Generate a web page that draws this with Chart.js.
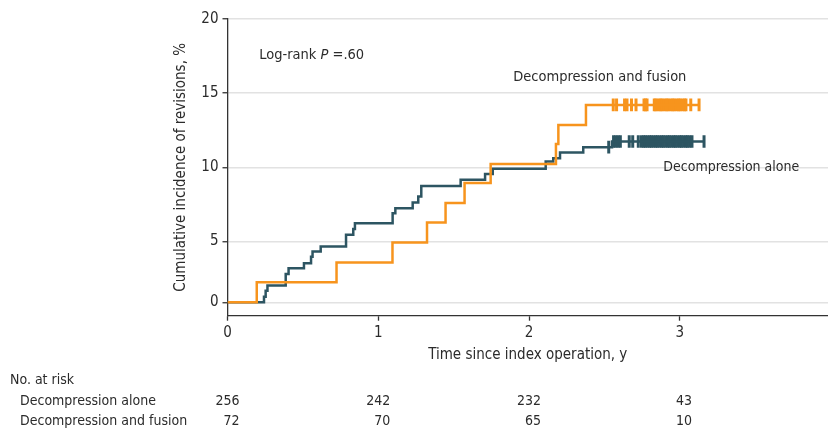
<!DOCTYPE html>
<html>
<head>
<meta charset="utf-8">
<script src="https://cdn.jsdelivr.net/npm/chart.js@4.4.1/dist/chart.umd.min.js"></script>
<style>
  html, body { margin: 0; padding: 0; background: #fff; }
  canvas { display: block; }
</style>
</head>
<body>
<canvas id="km" width="828" height="432"></canvas>
<script>
// step curves: time (y) and cumulative incidence (%) at each step
const aloneTimes = [0, 0.242, 0.253, 0.265, 0.386, 0.405, 0.507, 0.554, 0.564, 0.618, 0.786, 0.834, 0.845,
  1.095, 1.113, 1.228, 1.265, 1.285, 1.546, 1.708, 1.759, 2.110, 2.160, 2.205, 2.359, 2.550, 3.160];
const aloneIncidence = [0, 0.46, 0.96, 1.39, 2.33, 2.81, 3.22, 3.74, 4.18, 4.59, 5.45, 5.84, 6.23,
  6.91, 7.25, 7.63, 8.03, 8.75, 9.16, 9.56, 9.90, 10.39, 10.62, 11.00, 11.36, 11.74, 11.74];

const fusionTimes = [0, 0.194, 0.723, 1.094, 1.323, 1.446, 1.572, 1.745, 2.178, 2.194, 2.377, 3.127];
const fusionIncidence = [0, 1.65, 3.27, 4.92, 6.28, 7.59, 8.94, 10.22, 11.58, 12.86, 14.21, 14.21];

// censored observations (time, y)
const aloneCensored = [2.528, 2.56, 2.575, 2.59, 2.605, 2.664, 2.687, 2.724, 2.745, 2.76, 2.77, 2.785, 2.80,
  2.81, 2.825, 2.84, 2.85, 2.865, 2.88, 2.89, 2.905, 2.92, 2.93, 2.945, 2.96, 2.97, 2.985, 3.0, 3.01,
  3.025, 3.04, 3.05, 3.065, 3.08, 3.16];
const fusionCensored = [2.558, 2.580, 2.633, 2.649, 2.679, 2.709, 2.762, 2.772, 2.782, 2.83, 2.84, 2.855,
  2.87, 2.88, 2.895, 2.91, 2.92, 2.935, 2.95, 2.96, 2.975, 2.99, 3.0, 3.015, 3.03, 3.04, 3.072, 3.127];

// number at risk table
const riskYears = [0, 1, 2, 3];
const riskAlone = [256, 242, 232, 43];
const riskFusion = [72, 70, 65, 10];

const xTicks = [0, 1, 2, 3];
const yTicks = [0, 5, 10, 15, 20];

const BLUE = '#2d5562';
const ORANGE = '#f7941d';
const TEXT = '#2b2b2b';
const FONT = '"DejaVu Sans Condensed", "Liberation Sans Narrow", sans-serif';
const FS = 15;

// the 0 line sits a little above the x axis, the axis is linear from 5 up
const LIFT = 0.9;
const KNEE = 5;
function lift(v) { return v < KNEE ? LIFT + v * (KNEE - LIFT) / KNEE : v; }
function drop(u) { return u < KNEE ? (u - LIFT) * KNEE / (KNEE - LIFT) : u; }

class LiftedScale extends Chart.LinearScale {
  getPixelForValue(value) {
    if (value === null || value === undefined) return NaN;
    return super.getPixelForValue(lift(value));
  }
  getValueForPixel(pixel) {
    return drop(super.getValueForPixel(pixel));
  }
}
LiftedScale.id = 'lifted';
LiftedScale.defaults = Chart.LinearScale.defaults;
Chart.register(LiftedScale);

function levelAt(times, values, t) {
  let v = values[0];
  for (let i = 0; i < times.length; i++) {
    if (times[i] <= t) v = values[i];
  }
  return v;
}

function toPoints(times, values) {
  return times.map((t, i) => ({x: t, y: values[i]}));
}

function censorPoints(list, times, values) {
  return list.map(t => ({x: t, y: levelAt(times, values, t)}));
}

const textPlugin = {
  id: 'kmText',
  afterDraw(chart) {
    const ctx = chart.ctx;
    const x = chart.scales.x;
    const y = chart.scales.y;
    const small = '14px ' + FONT;
    const mid = '14.5px ' + FONT;
    ctx.save();
    ctx.fillStyle = TEXT;
    ctx.textBaseline = 'middle';
    ctx.textAlign = 'left';

    // log-rank annotation
    let px = x.getPixelForValue(0.21);
    let py = y.getPixelForValue(17.53);
    ctx.font = mid;
    ctx.fillText('Log-rank ', px, py);
    px += ctx.measureText('Log-rank ').width;
    ctx.font = 'italic ' + mid;
    ctx.fillText('P', px, py);
    px += ctx.measureText('P').width;
    ctx.font = mid;
    ctx.fillText(' =.60', px, py);

    // curve labels
    ctx.font = mid;
    ctx.fillText('Decompression and fusion', x.getPixelForValue(1.895), y.getPixelForValue(16.10));
    ctx.font = small;
    ctx.fillText('Decompression alone', x.getPixelForValue(2.89), y.getPixelForValue(10.03));

    // number at risk
    ctx.fillText('No. at risk', 10, 380);
    ctx.fillText('Decompression alone', 20, 401);
    ctx.fillText('Decompression and fusion', 20, 421.5);
    ctx.textAlign = 'right';
    riskYears.forEach((t, i) => {
      const cx = x.getPixelForValue(t) + 12;
      ctx.fillText(String(riskAlone[i]), cx, 401);
      ctx.fillText(String(riskFusion[i]), cx, 421.5);
    });
    ctx.restore();
  }
};

new Chart(document.getElementById('km'), {
  type: 'line',
  data: {
    datasets: [
      {
        data: toPoints(fusionTimes, fusionIncidence),
        stepped: true,
        borderColor: ORANGE,
        borderWidth: 2.5,
        pointRadius: 0,
        fill: false
      },
      {
        data: censorPoints(fusionCensored, fusionTimes, fusionIncidence),
        showLine: false,
        pointStyle: 'line',
        pointRotation: 90,
        pointRadius: 6.3,
        pointBorderWidth: 3,
        pointBorderColor: ORANGE,
        borderColor: ORANGE
      },
      {
        data: toPoints(aloneTimes, aloneIncidence),
        stepped: true,
        borderColor: BLUE,
        borderWidth: 2.5,
        pointRadius: 0,
        fill: false
      },
      {
        data: censorPoints(aloneCensored, aloneTimes, aloneIncidence),
        showLine: false,
        pointStyle: 'line',
        pointRotation: 90,
        pointRadius: 6.3,
        pointBorderWidth: 3,
        pointBorderColor: BLUE,
        borderColor: BLUE
      }
    ]
  },
  options: {
    responsive: false,
    animation: false,
    events: [],
    layout: { autoPadding: false, padding: { top: 19, right: 0, bottom: 0, left: 0 } },
    plugins: { legend: { display: false }, tooltip: { enabled: false } },
    scales: {
      x: {
        type: 'linear',
        min: 0,
        max: 3.982,
        afterFit: (scale) => { scale.height = 116.3; },
        afterBuildTicks: (scale) => { scale.ticks = xTicks.map(v => ({value: v})); },
        border: { color: '#333', width: 1.3 },
        grid: { drawOnChartArea: false, tickLength: 5, tickColor: '#333', tickWidth: 1.3 },
        ticks: { color: TEXT, font: { family: FONT, size: FS }, padding: 3, autoSkip: false, maxRotation: 0 },
        title: {
          display: true,
          text: 'Time since index operation, y',
          color: TEXT,
          font: { family: FONT, size: FS },
          padding: { top: 0, bottom: 68 }
        }
      },
      y: {
        type: 'lifted',
        min: 0,
        max: 20,
        afterFit: (scale) => { scale.width = 227.5; },
        afterBuildTicks: (scale) => { scale.ticks = yTicks.map(v => ({value: v})); },
        border: { color: '#333', width: 1.3 },
        grid: { color: '#e2e2e2', lineWidth: 1.5, tickLength: 5, tickColor: '#333', tickWidth: 1.3 },
        ticks: { color: TEXT, font: { family: FONT, size: FS }, padding: 4 },
        title: {
          display: true,
          text: 'Cumulative incidence of revisions, %',
          color: TEXT,
          font: { family: FONT, size: FS },
          padding: { top: 172, bottom: 0 }
        }
      }
    }
  },
  plugins: [textPlugin]
});
</script>
</body>
</html>
